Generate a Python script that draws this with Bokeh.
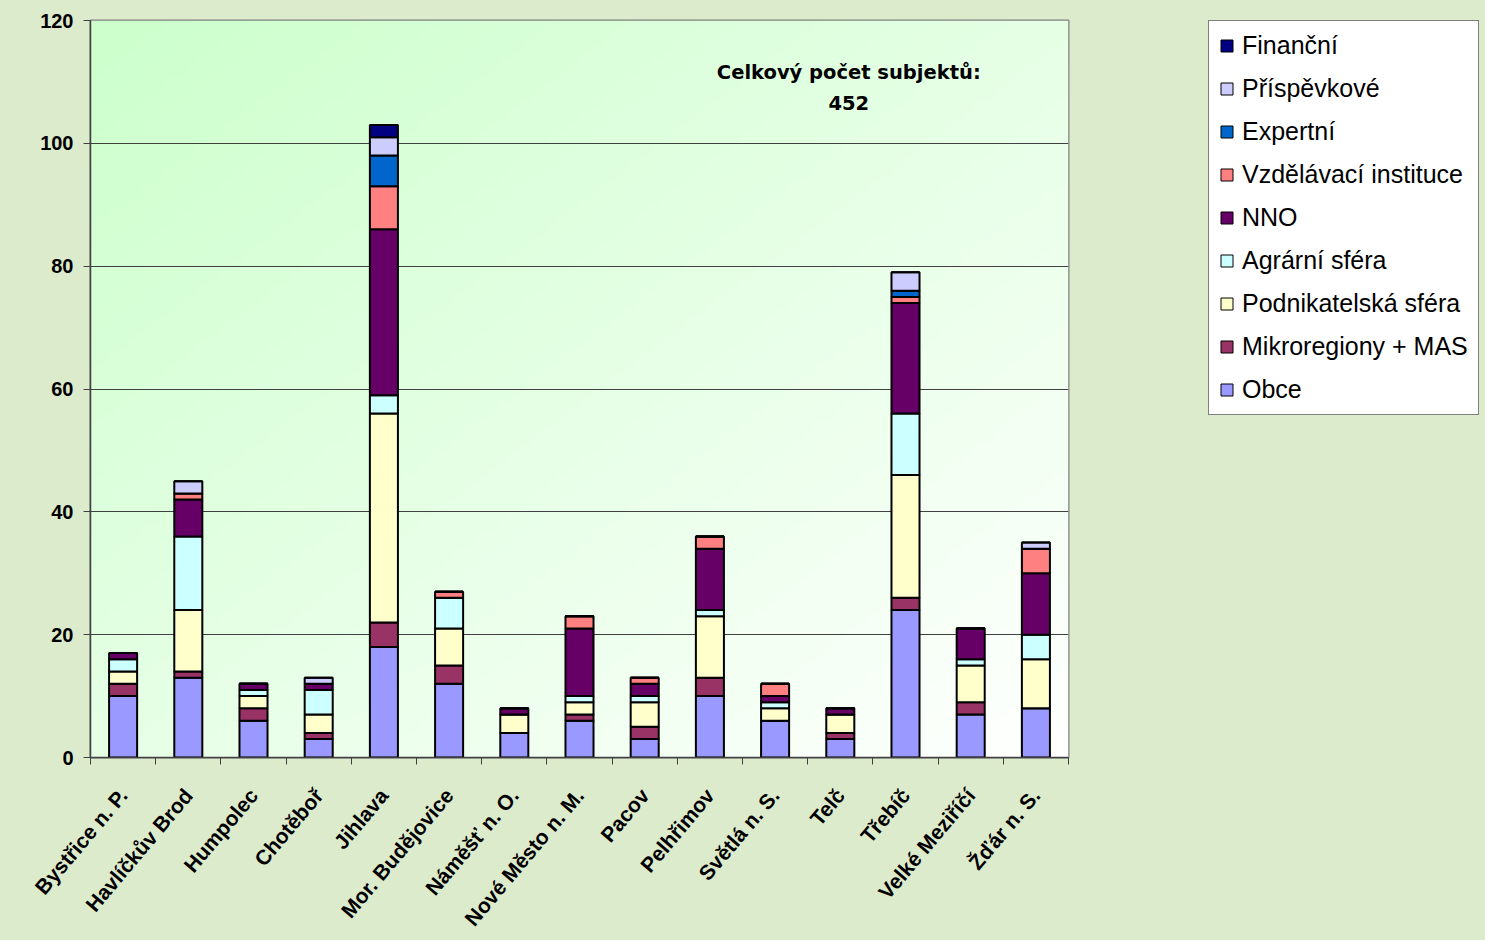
import numpy as np
from bokeh.plotting import figure
from bokeh.layouts import row
from bokeh.models import (ColumnDataSource, Range1d, FixedTicker, CustomJSTickFormatter,
                          Legend, LegendItem, Label)
from bokeh.embed import file_html
from bokeh.resources import INLINE

categories = ["Bystřice n. P.", "Havlíčkův Brod", "Humpolec", "Chotěboř", "Jihlava",
              "Mor. Budějovice", "Náměšť n. O.", "Nové Město n. M.", "Pacov", "Pelhřimov",
              "Světlá n. S.", "Telč", "Třebíč", "Velké Meziříčí", "Žďár n. S."]

series = ["Obce", "Mikroregiony + MAS", "Podnikatelská sféra", "Agrární sféra", "NNO",
          "Vzdělávací instituce", "Expertní", "Příspěvkové", "Finanční"]
colors = ["#9999FF", "#993366", "#FFFFCC", "#CCFFFF", "#660066",
          "#FF8080", "#0066CC", "#CCCCFF", "#000080"]

obce          = [10, 13, 6, 3, 18, 12, 4, 6, 3, 10, 6, 3, 24, 7, 8]
mikroregiony  = [2, 1, 2, 1, 4, 3, 0, 1, 2, 3, 0, 1, 2, 2, 0]
podnikatelska = [2, 10, 2, 3, 34, 6, 3, 2, 4, 10, 2, 3, 20, 6, 8]
agrarni       = [2, 12, 1, 4, 3, 5, 0, 1, 1, 1, 1, 0, 10, 1, 4]
nno           = [1, 6, 1, 1, 27, 0, 1, 11, 2, 10, 1, 1, 18, 5, 10]
vzdelavaci    = [0, 1, 0, 0, 7, 1, 0, 2, 1, 2, 2, 0, 1, 0, 4]
expertni      = [0, 0, 0, 0, 5, 0, 0, 0, 0, 0, 0, 0, 1, 0, 0]
prispevkove   = [0, 2, 0, 1, 3, 0, 0, 0, 0, 0, 0, 0, 3, 0, 1]
financni      = [0, 0, 0, 0, 2, 0, 0, 0, 0, 0, 0, 0, 0, 0, 0]

y_ticks = [0, 20, 40, 60, 80, 100, 120]
total_text = ["Celkový počet subjektů:", "452"]

values = [obce, mikroregiony, podnikatelska, agrarni, nno, vzdelavaci, expertni, prispevkove, financni]
n = len(categories)
data = {"x": [i + 0.5 for i in range(n)]}
for name, vals in zip(series, values):
    data[name] = vals
src = ColumnDataSource(data)

PAGE_BG = "#DDEBCD"

p = figure(width=1100, height=940, output_backend="svg", toolbar_location=None,
           x_range=Range1d(0, n), y_range=Range1d(0, 120),
           min_border_left=90, min_border_right=32, min_border_top=20, min_border_bottom=182)
p.background_fill_color = "white"
p.border_fill_color = PAGE_BG
p.outline_line_color = "#808080"
p.outline_line_width = 2

# gradient plot-area background
H, W = 120, 160
jj, ii = np.mgrid[0:H, 0:W]
t = (ii / (W - 1) + (1 - jj / (H - 1))) / 2.0
start = np.array([204, 255, 204], dtype=float)
img = np.empty((H, W), dtype=np.uint32)
view = img.view(dtype=np.uint8).reshape((H, W, 4))
for c in range(3):
    view[:, :, c] = (start[c] + (255 - start[c]) * t).astype(np.uint8)
view[:, :, 3] = 255
bg = p.image_rgba(image=[img], x=0, y=0, dw=n, dh=120)
bg.level = "image"

renderers = p.vbar_stack(series, x="x", width=0.43, color=colors, line_color="black",
                         line_width=2, source=src)

# y axis
p.yaxis.ticker = FixedTicker(ticks=y_ticks)
p.yaxis.major_label_text_font = "Liberation Sans"
p.yaxis.major_label_text_font_style = "bold"
p.yaxis.major_label_text_font_size = "20px"
p.yaxis.major_label_text_color = "black"
p.yaxis.major_tick_out = 7
p.yaxis.major_tick_in = 0
p.yaxis.minor_tick_line_color = None
p.yaxis.major_label_standoff = 10
p.yaxis.axis_line_color = "#404040"
p.yaxis.axis_line_width = 1.5
p.yaxis.major_tick_line_color = "#404040"

p.ygrid.grid_line_color = "#404040"
p.ygrid.grid_line_width = 1
p.xgrid.visible = False

# x axis
p.xaxis.ticker = FixedTicker(ticks=[i + 0.5 for i in range(n)], minor_ticks=list(range(n + 1)))
p.xaxis.formatter = CustomJSTickFormatter(args=dict(names=categories), code="""
const i = Math.floor(tick);
return (i >= 0 && i < names.length) ? names[i] : '';
""")
p.xaxis.major_tick_out = 0
p.xaxis.major_tick_in = 0
p.xaxis.minor_tick_out = 7
p.xaxis.minor_tick_in = 0
p.xaxis.minor_tick_line_color = "#404040"
p.xaxis.axis_line_color = "#404040"
p.xaxis.axis_line_width = 1.5
p.xaxis.major_label_orientation = 0.87
p.xaxis.major_label_standoff = 27
p.xaxis.major_label_text_font = "Liberation Sans"
p.xaxis.major_label_text_font_style = "bold"
p.xaxis.major_label_text_font_size = "21px"
p.xaxis.major_label_text_color = "black"

# total annotation
for txt, yv in zip(total_text, [111.5, 106.5]):
    p.add_layout(Label(x=11.63, y=yv, text=txt, text_align="center", text_baseline="middle",
                       text_font="DejaVu Sans", text_font_style="bold", text_font_size="19.5px",
                       text_color="black"))

# legend panel (separate figure to the right)
p2 = figure(width=385, height=940, output_backend="svg", toolbar_location=None,
            x_range=Range1d(0, 1), y_range=Range1d(0, 1), x_axis_type=None, y_axis_type=None,
            min_border_left=108, min_border_right=0, min_border_top=20, min_border_bottom=0)
p2.background_fill_color = PAGE_BG
p2.border_fill_color = PAGE_BG
p2.outline_line_color = None
p2.grid.visible = False
hidden = ColumnDataSource({"x": [0.9], "top": [0.1], "bottom": [0.1]})
legend_renderers = [p2.vbar(x="x", top="top", bottom="bottom", width=0, fill_color=c,
                            line_color="black", line_width=1, source=hidden) for c in colors]
items = [LegendItem(label=s, renderers=[r]) for s, r in zip(series, legend_renderers)][::-1]
legend = Legend(items=items, location="top_left", label_text_font="Liberation Sans",
                label_text_font_size="25px", label_text_color="black",
                glyph_width=15, glyph_height=15, label_height=24, label_standoff=8,
                spacing=14, padding=10, border_line_color="black", border_line_width=1,
                background_fill_color="white", background_fill_alpha=1.0, margin=0)
p2.add_layout(legend, "center")

layout = row(p, p2, spacing=0)
html = file_html(layout, INLINE)
html = html.replace("</head>", "<style>html, body { background-color: %s; }</style></head>" % PAGE_BG, 1)
open("out.html", "w").write(html)
